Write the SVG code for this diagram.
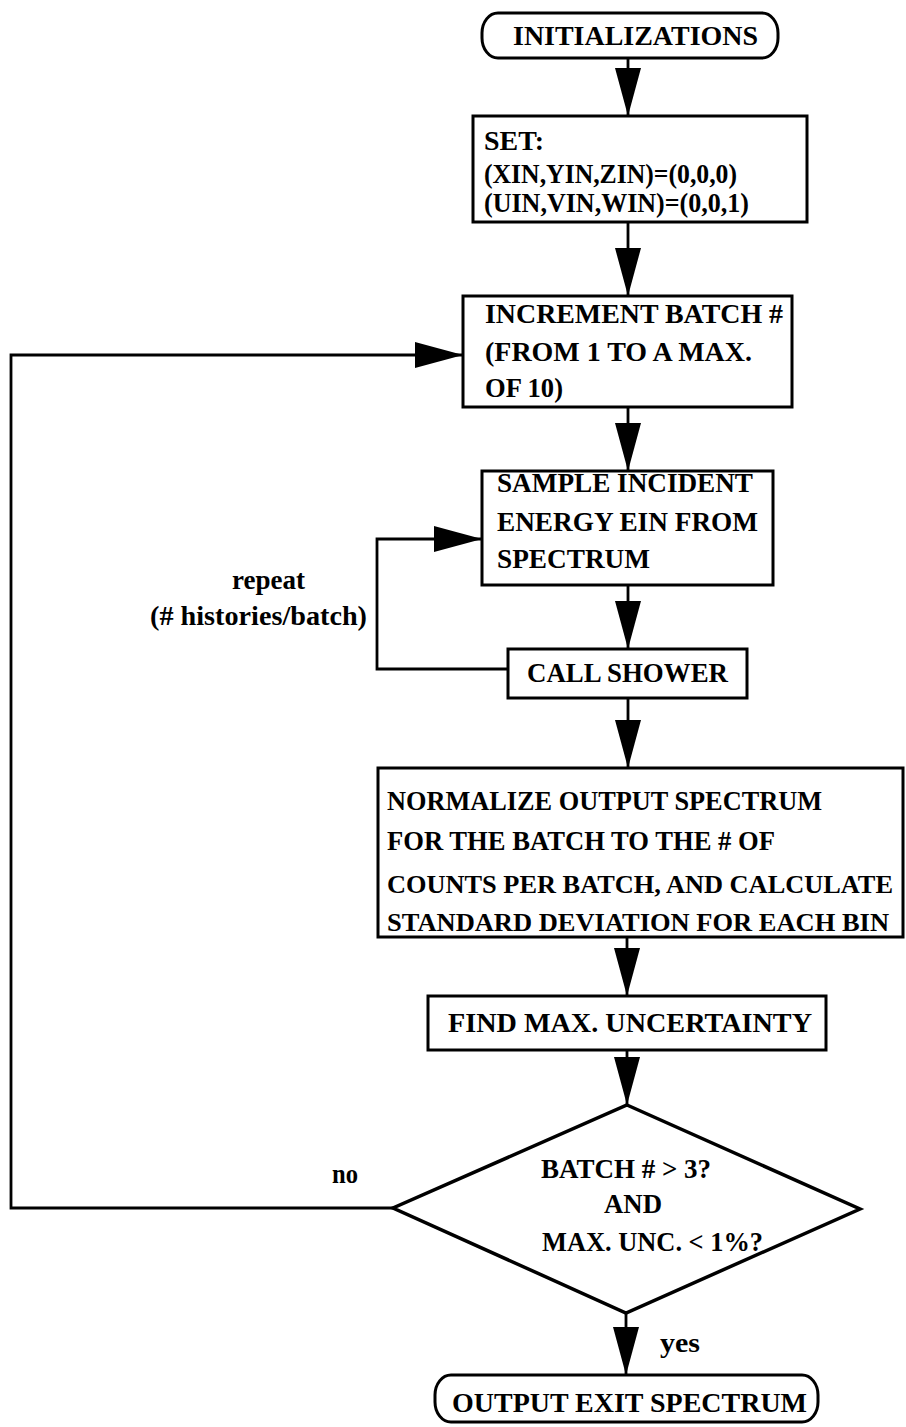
<svg xmlns="http://www.w3.org/2000/svg" width="906" height="1427" viewBox="0 0 906 1427">
  <style>
    .box { fill: #fff; stroke: #000; stroke-width: 3; }
    .term { fill: #fff; stroke: #000; stroke-width: 3; }
    .dec { fill: #fff; stroke: #000; stroke-width: 3.5; stroke-linejoin: miter; }
    .wire { fill: none; stroke: #000; stroke-width: 2.8; }
    .arrow { marker-end: url(#head); }
    text { font-family: "Liberation Serif", "Times New Roman", serif; font-weight: bold; font-size: 28px; fill: #000; }
    .wide { font-size: 26px; }
  </style>
  <defs>
    <marker id="head" markerUnits="userSpaceOnUse" markerWidth="48" markerHeight="26" refX="48" refY="13" orient="auto">
      <path d="M0,0 L48,13 L0,26 Z" fill="#000"/>
    </marker>
  </defs>

  <g id="connectors">
    <line class="wire arrow" x1="628" y1="58" x2="628" y2="116"/>
    <line class="wire arrow" x1="628" y1="222" x2="628" y2="296"/>
    <line class="wire arrow" x1="628" y1="407" x2="628" y2="471"/>
    <line class="wire arrow" x1="628" y1="585" x2="628" y2="649"/>
    <line class="wire arrow" x1="628" y1="698" x2="628" y2="768"/>
    <line class="wire arrow" x1="627" y1="937" x2="627" y2="996"/>
    <line class="wire arrow" x1="627" y1="1050" x2="627" y2="1105"/>
    <line class="wire arrow" x1="626" y1="1313" x2="626" y2="1375"/>
    <!-- repeat loop back to sampling -->
    <path class="wire arrow" d="M508,669 H377 V539 H482"/>
    <!-- "no" branch back to batch increment -->
    <path class="wire arrow" d="M393,1208 H11 V355 H463"/>
  </g>

  <g id="labels">
    <text x="232" y="589" textLength="73" lengthAdjust="spacingAndGlyphs">repeat</text>
    <text x="150" y="625" textLength="217" lengthAdjust="spacingAndGlyphs">(#  histories/batch)</text>
    <text x="332" y="1183" textLength="26" lengthAdjust="spacingAndGlyphs">no</text>
    <text x="660" y="1352" textLength="40" lengthAdjust="spacingAndGlyphs">yes</text>
  </g>

  <g id="init">
    <rect class="term" x="482" y="13" width="296" height="45" rx="16" ry="20"/>
    <text x="513" y="45" textLength="245" lengthAdjust="spacingAndGlyphs">INITIALIZATIONS</text>
  </g>

  <g id="set">
    <rect class="box" x="473" y="116" width="334" height="106"/>
    <text x="484" y="150" textLength="60" lengthAdjust="spacingAndGlyphs">SET:</text>
    <text x="484" y="183" textLength="253" lengthAdjust="spacingAndGlyphs">(XIN,YIN,ZIN)=(0,0,0)</text>
    <text x="484" y="212" textLength="265" lengthAdjust="spacingAndGlyphs">(UIN,VIN,WIN)=(0,0,1)</text>
  </g>

  <g id="increment">
    <rect class="box" x="463" y="296" width="329" height="111"/>
    <text x="485" y="323" textLength="298" lengthAdjust="spacingAndGlyphs">INCREMENT  BATCH #</text>
    <text x="485" y="361" textLength="267" lengthAdjust="spacingAndGlyphs">(FROM 1 TO A MAX.</text>
    <text x="485" y="397" textLength="78" lengthAdjust="spacingAndGlyphs">OF 10)</text>
  </g>

  <g id="sample">
    <rect class="box" x="482" y="471" width="291" height="114"/>
    <text x="497" y="492" textLength="256" lengthAdjust="spacingAndGlyphs">SAMPLE  INCIDENT</text>
    <text x="497" y="531" textLength="261" lengthAdjust="spacingAndGlyphs">ENERGY EIN FROM</text>
    <text x="497" y="568" textLength="153" lengthAdjust="spacingAndGlyphs">SPECTRUM</text>
  </g>

  <g id="shower">
    <rect class="box" x="508" y="649" width="239" height="49"/>
    <text x="527" y="682" textLength="201" lengthAdjust="spacingAndGlyphs">CALL SHOWER</text>
  </g>

  <g id="normalize">
    <rect class="box" x="378" y="768" width="525" height="169"/>
    <text x="387" y="810" textLength="435" lengthAdjust="spacingAndGlyphs">NORMALIZE  OUTPUT  SPECTRUM</text>
    <text x="387" y="850" textLength="388" lengthAdjust="spacingAndGlyphs">FOR THE BATCH TO THE # OF</text>
    <text class="wide" x="387" y="893" textLength="506" lengthAdjust="spacingAndGlyphs">COUNTS PER BATCH, AND CALCULATE</text>
    <text class="wide" x="387" y="931" textLength="502" lengthAdjust="spacingAndGlyphs">STANDARD DEVIATION FOR EACH BIN</text>
  </g>

  <g id="find">
    <rect class="box" x="428" y="996" width="398" height="54"/>
    <text x="448" y="1032" textLength="364" lengthAdjust="spacingAndGlyphs">FIND  MAX. UNCERTAINTY</text>
  </g>

  <g id="decision">
    <polygon class="dec" points="627,1105 860,1209 626,1313 393,1208"/>
    <text x="541" y="1178" textLength="170" lengthAdjust="spacingAndGlyphs">BATCH # &gt; 3?</text>
    <text x="604" y="1213" textLength="58" lengthAdjust="spacingAndGlyphs">AND</text>
    <text x="542" y="1251" textLength="221" lengthAdjust="spacingAndGlyphs">MAX. UNC. &lt; 1%?</text>
  </g>

  <g id="output">
    <rect class="term" x="435" y="1375" width="383" height="47" rx="16" ry="20"/>
    <text x="452" y="1412" textLength="355" lengthAdjust="spacingAndGlyphs">OUTPUT  EXIT  SPECTRUM</text>
  </g>
</svg>
